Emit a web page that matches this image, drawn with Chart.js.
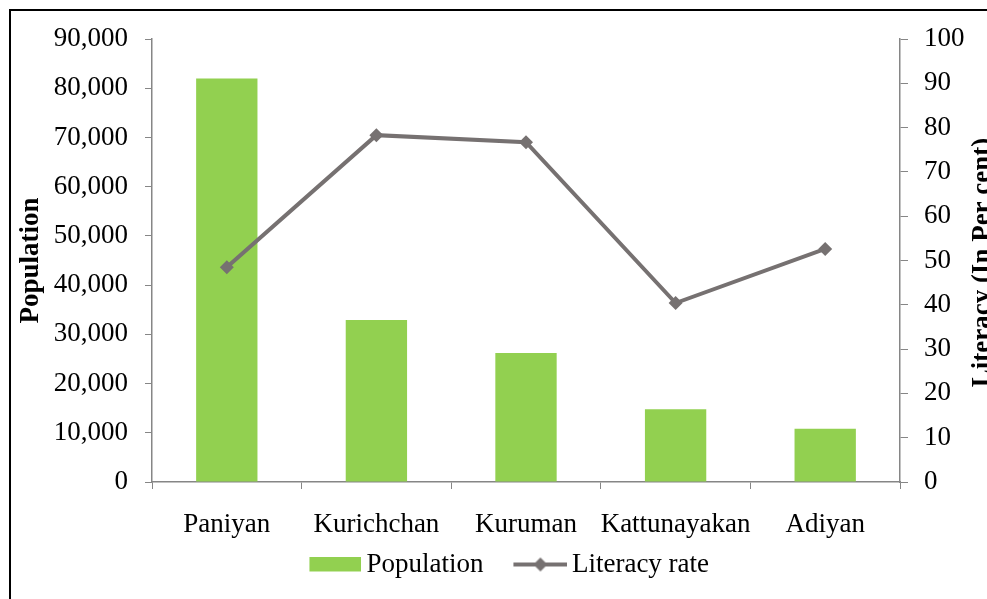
<!DOCTYPE html>
<html>
<head>
<meta charset="utf-8">
<script src="https://cdn.jsdelivr.net/npm/chart.js@4"></script>
<style>
    html, body { margin: 0; padding: 0; background: #fff; overflow: hidden; }
    #moldura {
        position: absolute; left: 9px; top: 9px;
        width: 1200px; height: 800px;
        border-left: 2px solid #000; border-top: 2px solid #000;
    }
    #grafico { position: absolute; left: 0; top: 0; }
</style>
</head>
<body>
<div id="moldura"></div>
<canvas id="grafico" width="987" height="599"></canvas>
<script>
const categorias = ["Paniyan", "Kurichchan", "Kuruman", "Kattunayakan", "Adiyan"];
const populacao = [82000, 32900, 26200, 14800, 10800];
const alfabetizacao = [48.5, 78.3, 76.7, 40.4, 52.6];

const limitesPopulacao = { min: 0, max: 90000, passo: 10000 };
const limitesAlfabetizacao = { min: 0, max: 100, passo: 10 };

const VERDE = "#92D050";
const CINZA = "#767171";
const EIXO = "#868686";
const FONTE = "'Liberation Serif', 'Times New Roman', serif";
const TAM = 27;


// icones da legenda: parte visivel deslocada para a direita
function criarIconeBarra() {
    const c = document.createElement("canvas");
    c.width = 62;
    c.height = 16;
    const ctx = c.getContext("2d");
    ctx.fillStyle = VERDE;
    ctx.fillRect(10, 0, 52, 15);
    return c;
}


function criarIconeLinha() {
    const c = document.createElement("canvas");
    c.width = 63;
    c.height = 16;
    const ctx = c.getContext("2d");
    ctx.strokeStyle = CINZA;
    ctx.lineWidth = 4;
    ctx.beginPath();
    ctx.moveTo(9, 8);
    ctx.lineTo(63, 8);
    ctx.stroke();
    ctx.fillStyle = CINZA;
    ctx.beginPath();
    ctx.moveTo(36, 1);
    ctx.lineTo(43, 8);
    ctx.lineTo(36, 15);
    ctx.lineTo(29, 8);
    ctx.closePath();
    ctx.fill();
    return c;
}


// ajustes de layout e titulo do eixo direito (lido de baixo para cima)
const ajustes = {
    id: "ajustes",
    afterLayout(chart) {
        const legenda = chart.legend;
        legenda.left += 15;
        legenda.right += 15;
        legenda.top -= 21;
    },
    afterDraw(chart) {
        const ctx = chart.ctx;
        const area = chart.chartArea;
        const eixo = chart.scales.y1;
        ctx.save();
        ctx.translate(eixo.right + 3, (area.top + area.bottom) / 2 + 2);
        ctx.rotate(-Math.PI / 2);
        ctx.font = "bold " + TAM + "px " + FONTE;
        ctx.textAlign = "center";
        ctx.textBaseline = "alphabetic";
        ctx.fillStyle = "#000";
        ctx.fillText("Literacy (In Per cent)", 0, 0);
        ctx.restore();
    }
};

const iconeBarra = criarIconeBarra();
const iconeLinha = criarIconeLinha();

new Chart(document.getElementById("grafico"), {
    type: "bar",
    data: {
        labels: categorias,
        datasets: [
            {
                label: "Population",
                data: populacao,
                backgroundColor: VERDE,
                yAxisID: "y",
                order: 1,
                barPercentage: 0.41,
                categoryPercentage: 1
            },
            {
                type: "line",
                label: "Literacy rate",
                data: alfabetizacao,
                borderColor: CINZA,
                borderWidth: 4,
                pointStyle: "rectRot",
                pointRadius: 7,
                pointBackgroundColor: CINZA,
                pointBorderColor: CINZA,
                pointBorderWidth: 0,
                yAxisID: "y1",
                order: 0,
                tension: 0
            }
        ]
    },
    options: {
        responsive: false,
        animation: false,
        layout: {
            padding: { left: 0, right: 0, top: 39, bottom: 11 }
        },
        plugins: {
            tooltip: { enabled: false },
            legend: {
                position: "bottom",
                maxHeight: 46,
                labels: {
                    usePointStyle: true,
                    pointStyleWidth: 45,
                    boxHeight: 15,
                    padding: 30,
                    color: "#000",
                    font: { family: FONTE, size: TAM },
                    generateLabels: () => [
                        {
                            text: "Population",
                            pointStyle: iconeBarra,
                            fillStyle: VERDE,
                            strokeStyle: VERDE,
                            lineWidth: 0,
                            hidden: false,
                            datasetIndex: 0,
                            fontColor: "#000"
                        },
                        {
                            text: "Literacy rate",
                            pointStyle: iconeLinha,
                            fillStyle: CINZA,
                            strokeStyle: CINZA,
                            lineWidth: 0,
                            hidden: false,
                            datasetIndex: 1,
                            fontColor: "#000"
                        }
                    ]
                }
            }
        },
        scales: {
            x: {
                afterFit: s => { s.height = 60; },
                grid: {
                    offset: true,
                    drawOnChartArea: false,
                    drawTicks: true,
                    tickLength: 7,
                    tickColor: EIXO
                },
                border: { color: EIXO, width: 1.5 },
                ticks: {
                    color: "#000",
                    padding: 20,
                    autoSkip: false,
                    maxRotation: 0,
                    minRotation: 0,
                    font: { family: FONTE, size: TAM }
                }
            },
            y: {
                position: "left",
                min: limitesPopulacao.min,
                max: limitesPopulacao.max,
                afterFit: s => { s.width = 152; },
                grid: {
                    drawOnChartArea: false,
                    tickLength: 7,
                    tickColor: EIXO
                },
                border: { color: EIXO, width: 1.5 },
                ticks: {
                    stepSize: limitesPopulacao.passo,
                    color: "#000",
                    padding: 17,
                    font: { family: FONTE, size: TAM },
                    callback: v => Number(v).toLocaleString("en-US")
                },
                title: {
                    display: true,
                    text: "Population",
                    color: "#000",
                    padding: { top: 15, bottom: 0 },
                    font: { family: FONTE, size: TAM, weight: "bold" }
                }
            },
            y1: {
                position: "right",
                min: limitesAlfabetizacao.min,
                max: limitesAlfabetizacao.max,
                afterFit: s => { s.width = 87; },
                grid: {
                    drawOnChartArea: false,
                    tickLength: 8,
                    tickColor: EIXO
                },
                border: { color: EIXO, width: 1.5 },
                ticks: {
                    stepSize: limitesAlfabetizacao.passo,
                    color: "#000",
                    padding: 16,
                    font: { family: FONTE, size: TAM }
                }
            }
        }
    },
    plugins: [ajustes]
});
</script>
</body>
</html>
